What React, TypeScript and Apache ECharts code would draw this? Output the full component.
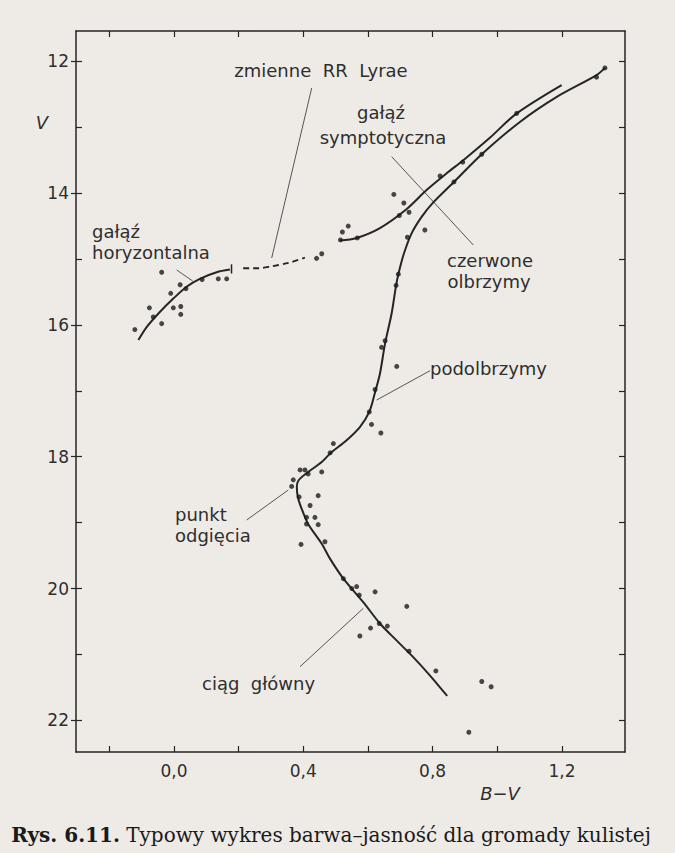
import React, { useEffect, useRef } from "react";
import * as echarts from "echarts";

// ---- data (B-V, V) ----
const xTicks = [-0.2, 0, 0.2, 0.4, 0.6, 0.8, 1.0, 1.2];
const xLabels = [0, 0.4, 0.8, 1.2];
const yTicks = [12, 13, 14, 15, 16, 17, 18, 19, 20, 21, 22];
const yLabels = [12, 14, 16, 18, 20, 22];

const mainCurve = [
  [0.845, 21.63], [0.792, 21.32], [0.74, 21.04], [0.689, 20.79], [0.637, 20.53],
  [0.586, 20.21], [0.524, 19.85], [0.483, 19.55], [0.457, 19.32], [0.415, 19.02],
  [0.395, 18.79], [0.383, 18.61], [0.38, 18.46], [0.385, 18.36], [0.41, 18.25],
  [0.457, 18.08], [0.483, 17.95], [0.534, 17.75], [0.575, 17.55], [0.604, 17.32],
  [0.622, 17.02], [0.637, 16.74], [0.653, 16.28], [0.673, 15.83], [0.687, 15.4],
  [0.694, 15.23], [0.711, 14.92], [0.735, 14.61], [0.766, 14.36], [0.802, 14.14],
  [0.866, 13.83], [0.952, 13.41], [1.07, 12.92], [1.184, 12.54], [1.307, 12.21],
  [1.333, 12.1],
];
const agbCurve = [
  [0.513, 14.72], [0.565, 14.68], [0.637, 14.53], [0.72, 14.24], [0.782, 13.95],
  [0.843, 13.7], [0.895, 13.5], [0.977, 13.16], [1.06, 12.79], [1.199, 12.36],
];
const hbCurve = [
  [-0.11, 16.23], [-0.084, 16.03], [-0.043, 15.8], [-0.002, 15.6], [0.039, 15.42],
  [0.08, 15.3], [0.132, 15.2], [0.173, 15.16],
];
const hbCap = [[0.178, 15.08], [0.178, 15.22]];
const rrLyrae = [
  [0.214, 15.14], [0.261, 15.14], [0.302, 15.11], [0.354, 15.06], [0.405, 14.98],
];

const hbStars = [
  [-0.038, 15.2], [0.019, 15.39], [-0.01, 15.52], [0.037, 15.45], [-0.076, 15.74],
  [-0.002, 15.74], [0.021, 15.72], [0.021, 15.84], [-0.064, 15.88], [-0.038, 15.98],
  [-0.121, 16.07], [0.087, 15.31], [0.137, 15.3], [0.163, 15.3],
];
const rrStars = [[0.441, 14.99], [0.457, 14.92]];
const agbStars = [
  [0.515, 14.71], [0.521, 14.59], [0.539, 14.5], [0.567, 14.68], [0.68, 14.02],
  [0.711, 14.15], [0.697, 14.34], [0.727, 14.29], [0.722, 14.67], [0.776, 14.56],
  [0.823, 13.74], [0.866, 13.83], [0.893, 13.53], [0.952, 13.41], [1.06, 12.79],
  [1.307, 12.24], [1.333, 12.1],
];
const rgbStars = [
  [0.694, 15.23], [0.687, 15.4], [0.653, 16.24], [0.642, 16.34], [0.689, 16.63],
  [0.622, 16.98], [0.604, 17.32], [0.611, 17.51], [0.64, 17.64], [0.493, 17.8],
];
const turnoffStars = [
  [0.483, 17.94], [0.457, 18.23], [0.39, 18.2], [0.405, 18.2], [0.415, 18.26],
  [0.369, 18.35], [0.364, 18.45], [0.446, 18.59], [0.387, 18.61], [0.421, 18.74],
  [0.41, 18.92], [0.436, 18.92], [0.446, 19.03], [0.41, 19.02], [0.393, 19.33],
  [0.467, 19.29],
];
const msStars = [
  [0.524, 19.85], [0.55, 20.0], [0.565, 19.97], [0.573, 20.1], [0.622, 20.05],
  [0.72, 20.27], [0.575, 20.72], [0.608, 20.6], [0.635, 20.53], [0.66, 20.57],
  [0.727, 20.95], [0.81, 21.25], [0.952, 21.41], [0.981, 21.49], [0.912, 22.18],
];

const INK = "#252525";
const PAPER = "#eeebe6";
const SANS = "DejaVu Sans";

function txt(text: string, x: number, y: number, align = "left", extra: any = {}) {
  return {
    type: "text",
    x,
    y,
    silent: true,
    style: {
      text,
      fill: "#2e2e2e",
      fontSize: 18,
      fontFamily: SANS,
      textAlign: align,
      textVerticalAlign: "middle",
      ...extra,
    },
  };
}
function lead(x1: number, y1: number, x2: number, y2: number) {
  return {
    type: "line",
    silent: true,
    shape: { x1, y1, x2, y2 },
    style: { stroke: "#555", lineWidth: 1 },
  };
}

export default function App() {
  const ref = useRef<HTMLDivElement>(null);
  useEffect(() => {
    if (!ref.current) return;
    const chart = echarts.init(ref.current, undefined, { renderer: "svg" });
    const xRange = { min: -0.303, max: 1.395 };
    const yRange = { min: 11.54, max: 22.48 };
    const lineS = (data: number[][], extra: any = {}) => ({
      type: "line",
      data,
      smooth: 0.3,
      showSymbol: false,
      silent: true,
      lineStyle: { color: INK, width: 2, ...extra },
      z: 3,
    });
    const tickStyle = { color: INK, width: 1.2 };
    chart.setOption({
      animation: false,
      backgroundColor: PAPER,
      grid: { left: 76, right: 50, top: 31, bottom: 101 },
      xAxis: [
        {
          type: "value",
          position: "bottom",
          ...xRange,
          axisLine: { show: true, onZero: false, lineStyle: { color: INK, width: 1.5 } },
          axisTick: { show: true, inside: true, length: 6, customValues: xTicks, lineStyle: tickStyle },
          axisLabel: {
            show: true,
            customValues: xLabels,
            margin: 10,
            fontSize: 17,
            fontFamily: SANS,
            color: "#2e2e2e",
            formatter: (v: number) => v.toFixed(1).replace(".", ","),
          },
          splitLine: { show: false },
        },
        {
          type: "value",
          position: "top",
          ...xRange,
          axisLine: { show: true, onZero: false, lineStyle: { color: INK, width: 1.5 } },
          axisTick: { show: true, inside: true, length: 6, customValues: xTicks, lineStyle: tickStyle },
          axisLabel: { show: false },
          splitLine: { show: false },
        },
      ],
      yAxis: [
        {
          type: "value",
          position: "left",
          inverse: true,
          ...yRange,
          axisLine: { show: true, onZero: false, lineStyle: { color: INK, width: 1.5 } },
          axisTick: { show: true, inside: true, length: 6, customValues: yTicks, lineStyle: tickStyle },
          axisLabel: {
            show: true,
            customValues: yLabels,
            margin: 7,
            fontSize: 17,
            fontFamily: SANS,
            color: "#2e2e2e",
          },
          splitLine: { show: false },
        },
        {
          type: "value",
          position: "right",
          inverse: true,
          ...yRange,
          axisLine: { show: true, onZero: false, lineStyle: { color: INK, width: 1.5 } },
          axisTick: { show: true, inside: true, length: 6, customValues: yTicks, lineStyle: tickStyle },
          axisLabel: { show: false },
          splitLine: { show: false },
        },
        {
          type: "value",
          position: "left",
          inverse: true,
          ...yRange,
          axisLine: { show: false, onZero: false },
          axisTick: { show: true, inside: false, length: 5, customValues: yLabels, lineStyle: tickStyle },
          axisLabel: { show: false },
          splitLine: { show: false },
        },
      ],
      series: [
        lineS(mainCurve),
        lineS(agbCurve),
        lineS(hbCurve),
        lineS(hbCap, { width: 1.5 }),
        lineS(rrLyrae, { type: [6, 4], width: 1.8 }),
        {
          type: "scatter",
          silent: true,
          symbol: "circle",
          symbolSize: 5,
          itemStyle: { color: "#1c1c1c" },
          data: [...hbStars, ...rrStars, ...agbStars, ...rgbStars, ...turnoffStars, ...msStars],
          z: 4,
        },
      ],
      graphic: [
        txt("V", 42, 122, "center", { fontStyle: "italic" }),
        txt("B\u2212V", 500, 793, "center", { fontStyle: "italic" }),
        txt("zmienne  RR  Lyrae", 321, 70, "center"),
        lead(311.7, 88, 271.7, 258),
        txt("gałąź", 92, 231),
        txt("horyzontalna", 92, 252),
        lead(176.7, 270, 192.7, 281),
        txt("gałąź", 381, 112, "center"),
        txt("symptotyczna", 383, 137, "center"),
        lead(391.7, 156.7, 473.3, 245),
        txt("czerwone", 490, 260, "center"),
        txt("olbrzymy", 489, 281, "center"),
        txt("podolbrzymy", 430, 368),
        lead(430, 370.7, 376.7, 400),
        txt("punkt", 175, 514),
        txt("odgięcia", 175, 535),
        lead(246.7, 520, 288.3, 490),
        txt("ciąg  główny", 202, 683),
        lead(300, 666.7, 363.3, 608.3),
        {
          type: "text",
          x: 331,
          y: 835,
          silent: true,
          style: {
            text: "{b|Rys. 6.11.} Typowy wykres barwa\u2013jasność dla gromady kulistej",
            fill: "#1a1a1a",
            fontSize: 20,
            fontFamily: "DejaVu Serif",
            textAlign: "center",
            textVerticalAlign: "middle",
            rich: {
              b: { fontWeight: "bold", fontSize: 20, fontFamily: "DejaVu Serif", fill: "#1a1a1a" },
            },
          },
        },
      ],
    });
    return () => chart.dispose();
  }, []);
  return (
    <div
      ref={ref}
      style={{ position: "fixed", left: 0, top: 0, width: 675, height: 853 }}
    />
  );
}
